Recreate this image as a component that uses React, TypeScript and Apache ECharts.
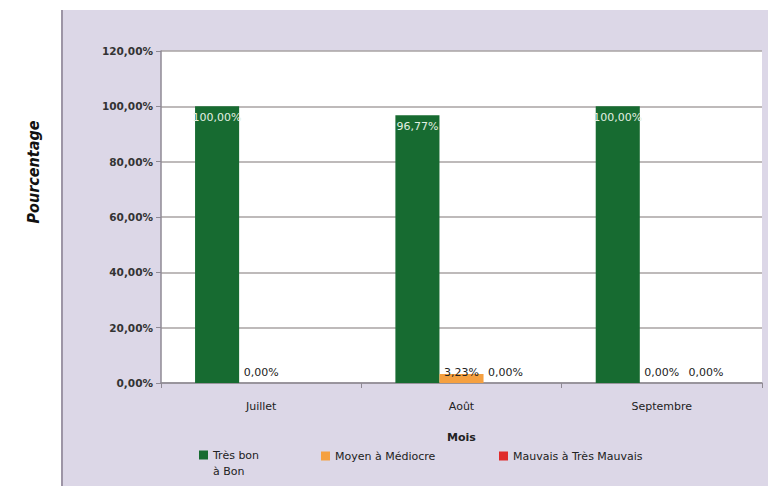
import React, { useEffect, useRef } from "react";
import * as echarts from "echarts";

const categories = ["Juillet", "Août", "Septembre"];
const seriesNames = ["Très bon à Bon", "Moyen à Médiocre", "Mauvais à Très Mauvais"];
const tresBon = [100.0, 96.77, 100.0];
const moyen = [0.0, 3.23, 0.0];
const mauvais: (number | string)[] = ["-", 0.0, 0.0];
const yTicks = [0, 20, 40, 60, 80, 100, 120];
const yTitle = "Pourcentage";
const xTitle = "Mois";

const colors = ["#176b31", "#f5a040", "#e02b2b"];
const FONT = "DejaVu Sans, Verdana, sans-serif";

const fmt = (v: number) => v.toFixed(2).replace(".", ",") + "%";

export default function App() {
  const ref = useRef<HTMLDivElement>(null);
  useEffect(() => {
    document.body.style.margin = "0";
    const chart = echarts.init(ref.current!, null, { renderer: "svg" });
    const legendBase = {
      orient: "horizontal",
      itemWidth: 9,
      itemHeight: 9,
      icon: "rect",
      padding: 0,
      textStyle: { fontFamily: FONT, fontSize: 11, color: "#222", lineHeight: 16 },
    };
    chart.setOption({
      animation: false,
      backgroundColor: "#ffffff",
      graphic: [
        {
          type: "rect",
          shape: { x: 61, y: 10, width: 707, height: 476 },
          style: { fill: "#dcd7e7" },
          z: -10,
        },
        {
          type: "line",
          shape: { x1: 62, y1: 10, x2: 62, y2: 486 },
          style: { stroke: "#9d95a6", lineWidth: 2 },
          z: -9,
        },
        {
          type: "text",
          x: 33,
          y: 172,
          rotation: Math.PI / 2,
          style: {
            text: yTitle,
            fontFamily: "Liberation Sans Narrow, DejaVu Sans Condensed, sans-serif",
            fontSize: 16,
            fontWeight: "bold",
            fontStyle: "italic",
            fill: "#111",
            align: "center",
            verticalAlign: "middle",
          },
        },
      ],
      grid: {
        left: 161,
        right: 6,
        top: 51,
        bottom: 103,
        show: true,
        backgroundColor: "#ffffff",
        borderWidth: 0,
      },
      legend: [
        {
          ...legendBase,
          data: [seriesNames[0]],
          left: 199,
          top: 431,
          formatter: () => "\nTrès bon\nà Bon",
        },
        { ...legendBase, data: [seriesNames[1]], left: 321, top: 448 },
        { ...legendBase, data: [seriesNames[2]], left: 499, top: 448 },
      ],
      xAxis: {
        type: "category",
        data: categories,
        name: xTitle,
        nameLocation: "middle",
        nameGap: 49,
        nameTextStyle: { fontFamily: FONT, fontSize: 11, fontWeight: "bold", color: "#222" },
        axisLine: { lineStyle: { color: "#8f8a94", width: 1.5 } },
        axisTick: { show: true, length: 5, lineStyle: { color: "#8f8a94" } },
        axisLabel: { fontFamily: FONT, fontSize: 11, color: "#222", margin: 18 },
      },
      yAxis: {
        type: "value",
        min: 0,
        max: 120,
        interval: 20,
        axisLine: { show: true, lineStyle: { color: "#8f8a94", width: 1.5 } },
        axisTick: { show: true, length: 5, lineStyle: { color: "#8f8a94" } },
        axisLabel: {
          fontFamily: FONT,
          fontSize: 10.5,
          fontWeight: "bold",
          color: "#333",
          margin: 8,
          formatter: (v: number) => (yTicks.includes(v) ? fmt(v) : ""),
        },
        splitLine: { show: true, lineStyle: { color: "#a9a3a3", width: 1.5 } },
      },
      series: [
        {
          name: seriesNames[0],
          type: "bar",
          data: tresBon,
          barGap: "0%",
          barCategoryGap: "34%",
          itemStyle: { color: colors[0] },
          label: {
            show: true,
            position: "insideTop",
            distance: 6,
            fontFamily: FONT,
            fontSize: 11,
            color: "#e3f0e3",
            formatter: (p: any) => fmt(p.value),
          },
        },
        {
          name: seriesNames[1],
          type: "bar",
          data: moyen,
          barGap: "0%",
          barCategoryGap: "34%",
          itemStyle: { color: colors[1] },
          label: {
            show: true,
            position: "insideBottom",
            distance: 5,
            fontFamily: FONT,
            fontSize: 11,
            color: "#222",
            formatter: (p: any) => fmt(p.value),
          },
        },
        {
          name: seriesNames[2],
          type: "bar",
          data: mauvais,
          barGap: "0%",
          barCategoryGap: "34%",
          itemStyle: { color: colors[2] },
          label: {
            show: true,
            position: "insideBottom",
            distance: 5,
            fontFamily: FONT,
            fontSize: 11,
            color: "#222",
            formatter: (p: any) => fmt(p.value),
          },
        },
      ],
    });
    return () => chart.dispose();
  }, []);
  return (
    <div
      ref={ref}
      style={{ position: "absolute", left: 0, top: 0, width: 768, height: 486 }}
    />
  );
}
